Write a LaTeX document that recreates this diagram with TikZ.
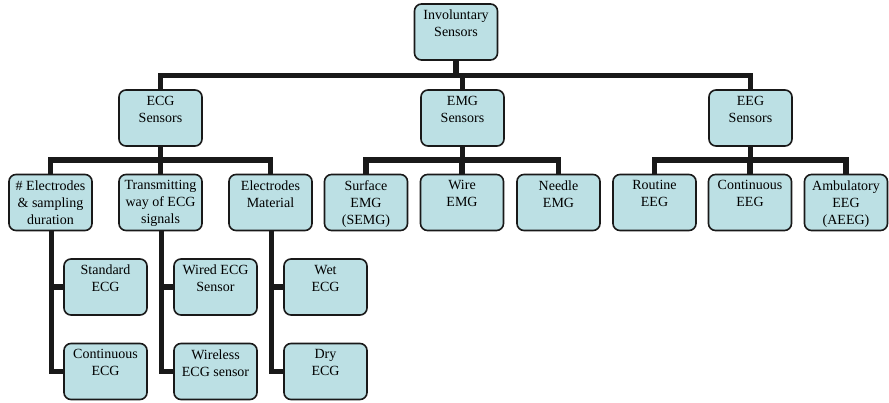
\documentclass[tikz,border=0pt]{standalone}
\usepackage{fontspec}
\setmainfont{Liberation Serif}
\usetikzlibrary{backgrounds}
\definecolor{boxfill}{RGB}{188,224,228}
\definecolor{boxline}{RGB}{25,25,25}
\newcommand{\boxtext}[1]{\parbox[c][55pt][t]{82pt}{\centering\vspace*{5.5pt}#1}}
\tikzset{
  sbox/.style={draw=boxline, line width=1.6pt, fill=boxfill, rounded corners=7pt,
    inner sep=0pt, minimum width=83pt, minimum height=56pt,
    font=\fontsize{14}{17}\selectfont},
  conn/.style={draw=black!90, line width=5.5pt}
}
\begin{document}
\begin{tikzpicture}[x=1pt,y=-1pt]
\useasboundingbox (0,0) rectangle (889,402);
\coordinate (b1) at (0,75.5);
\coordinate (b2) at (0,160);
\node[sbox] (root) at (456,32) {\boxtext{Involuntary\\Sensors}};
\node[sbox] (ecg) at (160.5,118) {\boxtext{ECG\\Sensors}};
\node[sbox] (emg) at (462.5,118) {\boxtext{EMG\\Sensors}};
\node[sbox] (eeg) at (750.5,118) {\boxtext{EEG\\Sensors}};
\node[sbox] (elec) at (50.5,202.5) {\boxtext{\# Electrodes\\\& sampling\\duration}};
\node[sbox] (trans) at (160.5,202.5) {\boxtext{Transmitting\\way of ECG\\signals}};
\node[sbox] (mat) at (270.5,202.5) {\boxtext{Electrodes\\Material}};
\node[sbox] (semg) at (366,202.5) {\boxtext{Surface\\EMG\\(SEMG)}};
\node[sbox] (wemg) at (462,202.5) {\boxtext{Wire\\EMG}};
\node[sbox] (nemg) at (558.5,202.5) {\boxtext{Needle\\EMG}};
\node[sbox] (reeg) at (654.5,202.5) {\boxtext{Routine\\EEG}};
\node[sbox] (ceeg) at (750,202.5) {\boxtext{Continuous\\EEG}};
\node[sbox] (aeeg) at (846,202.5) {\boxtext{Ambulatory\\EEG\\(AEEG)}};
\node[sbox] (stdecg) at (105.5,287) {\boxtext{Standard\\ECG}};
\node[sbox] (contecg) at (105.5,371.5) {\boxtext{Continuous\\ECG}};
\node[sbox] (wired) at (215.5,287) {\boxtext{Wired ECG\\Sensor}};
\node[sbox] (wless) at (215.5,371.5) {\boxtext{Wireless\\ECG sensor}};
\node[sbox] (wet) at (325.5,287) {\boxtext{Wet\\ECG}};
\node[sbox] (dry) at (325.5,371.5) {\boxtext{Dry\\ECG}};
\begin{scope}[on background layer]
\foreach \c in {ecg,emg,eeg}
  \draw[conn] (root.south) -- (root.south |- b1) -| (\c.north);
\foreach \c in {elec,trans,mat}
  \draw[conn] (ecg.south) -- (ecg.south |- b2) -| (\c.north);
\foreach \c in {semg,wemg,nemg}
  \draw[conn] (emg.south) -- (emg.south |- b2) -| (\c.north);
\foreach \c in {reeg,ceeg,aeeg}
  \draw[conn] (eeg.south) -- (eeg.south |- b2) -| (\c.north);
\foreach \p/\c in {elec/stdecg,elec/contecg,trans/wired,trans/wless,mat/wet,mat/dry}
  \draw[conn] ([xshift=1pt]\p.south) |- (\c.west);
\end{scope}
\end{tikzpicture}
\end{document}
